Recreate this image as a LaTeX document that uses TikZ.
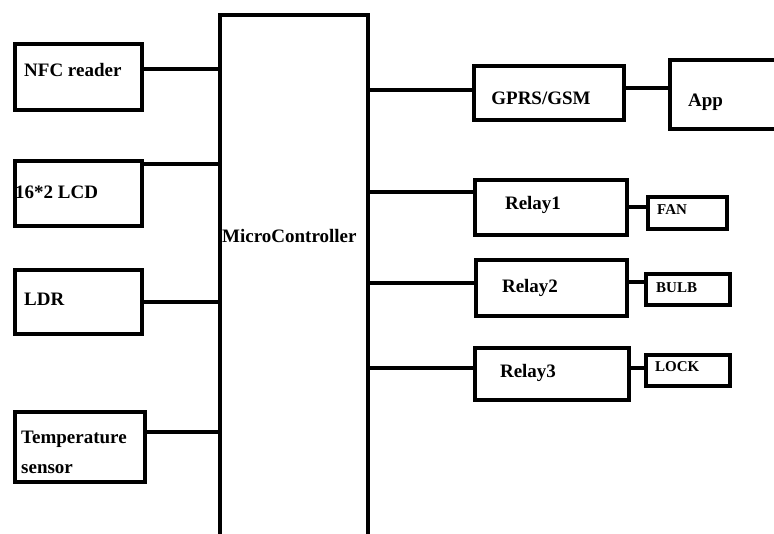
\documentclass[tikz,border=0pt]{standalone}
\usepackage{fontspec}
\setmainfont{Liberation Serif}
\begin{document}
\begin{tikzpicture}[x=1pt,y=-1pt,
  blk/.style={draw=black,line width=3.6pt,inner sep=0pt,anchor=north west},
  wire/.style={draw=black,line width=3.3pt},
  lbl/.style={inner sep=0pt,font=\fontsize{19}{22}\selectfont\bfseries},
  slbl/.style={inner sep=0pt,font=\fontsize{15}{17}\selectfont\bfseries}]
\useasboundingbox (0,0) rectangle (774,533);
\clip (0,0) rectangle (774,533);
% left blocks
\node[blk,minimum width=127pt,minimum height=66pt] (nfc) at (13,42) {};
\node[blk,minimum width=127pt,minimum height=65pt] (lcd) at (13,159) {};
\node[blk,minimum width=127pt,minimum height=64pt] (ldr) at (13,268) {};
\node[blk,minimum width=130pt,minimum height=70pt] (temp) at (13,410) {};
% microcontroller
\node[blk,minimum width=148pt,minimum height=540pt] (mc) at (218,13) {};
% right blocks
\node[blk,minimum width=150pt,minimum height=54pt] (gprs) at (472,64) {};
\node[blk,minimum width=122pt,minimum height=69pt] (app) at (668,58) {};
\node[blk,minimum width=152pt,minimum height=55pt] (r1) at (473,178) {};
\node[blk,minimum width=79pt,minimum height=32pt] (fan) at (646,195) {};
\node[blk,minimum width=151pt,minimum height=56pt] (r2) at (474,258) {};
\node[blk,minimum width=84pt,minimum height=31pt] (bulb) at (644,272) {};
\node[blk,minimum width=154pt,minimum height=52pt] (r3) at (473,346) {};
\node[blk,minimum width=84pt,minimum height=31pt] (lock) at (644,353) {};
% texts
\node[lbl,anchor=west] (tnfc) at (24,70) {NFC reader};
\node[lbl,anchor=west] (tlcd) at (15,192) {16*2 LCD};
\node[lbl,anchor=west] (tldr) at (24,299) {LDR};
\node[lbl,anchor=west,align=left,font=\fontsize{19}{30}\selectfont\bfseries] (ttemp) at (21,452) {Temperature\\sensor};
\node[lbl,anchor=west] (tmc) at (222,236) {MicroController};
\node[lbl] (tgprs) at (541,98) {GPRS/GSM};
\node[lbl,anchor=west] (tapp) at (688,102) {App};
\node[lbl] (tr1) at (533,205) {Relay1};
\node[lbl] (tr2) at (530,288) {Relay2};
\node[lbl] (tr3) at (528,373) {Relay3};
\node[slbl,anchor=west] (tfan) at (657,210) {FAN};
\node[slbl,anchor=west] (tbulb) at (656,288) {BULB};
\node[slbl,anchor=west] (tlock) at (655,367) {LOCK};
% connectors left
\draw[wire] (nfc.east|-0,69) -- (mc.west|-0,69);
\draw[wire] (lcd.east|-0,164) -- (mc.west|-0,164);
\draw[wire] (ldr.east|-0,302) -- (mc.west|-0,302);
\draw[wire] (temp.east|-0,432) -- (mc.west|-0,432);
% connectors right
\draw[wire] (mc.east|-0,90) -- (gprs.west|-0,90);
\draw[wire] (gprs.east|-0,88) -- (app.west|-0,88);
\draw[wire] (mc.east|-0,192) -- (r1.west|-0,192);
\draw[wire] (r1.east|-0,207) -- (fan.west|-0,207);
\draw[wire] (mc.east|-0,283) -- (r2.west|-0,283);
\draw[wire] (r2.east|-0,282) -- (bulb.west|-0,282);
\draw[wire] (mc.east|-0,368) -- (r3.west|-0,368);
\draw[wire] (r3.east|-0,368) -- (lock.west|-0,368);
\end{tikzpicture}
\end{document}
